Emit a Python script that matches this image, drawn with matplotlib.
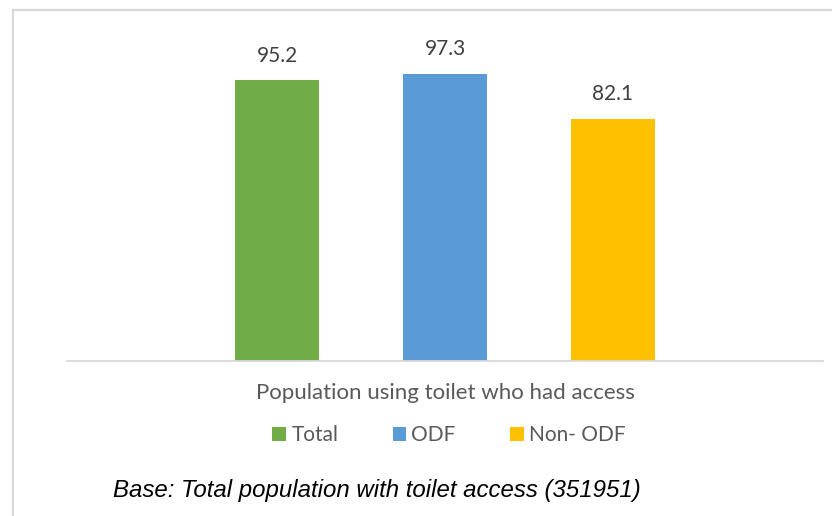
import matplotlib

matplotlib.use("Agg")

import matplotlib.pyplot as plt
from matplotlib.lines import Line2D
from matplotlib.patches import Patch

SERIES = ["Total", "ODF", "Non- ODF"]
VALUES = [95.2, 97.3, 82.1]
COLORS = ["#70AD47", "#5B9BD5", "#FFC000"]
CATEGORY = "Population using toilet who had access"
BASE_NOTE = "Base: Total population with toilet access (351951)"

W, H = 832, 516


def fx(px):
    return px / W


def fy(py):
    return 1 - py / H


def main() -> None:
    plt.rcParams["font.family"] = ["Lato", "DejaVu Sans"]

    fig = plt.figure(figsize=(W / 100, H / 100), dpi=100)
    ax = fig.add_axes([fx(67), fy(360.7), fx(823) - fx(67), fy(7.1) - fy(360.7)])

    positions = [-1, 0, 1]
    bars = ax.bar(positions, VALUES, width=0.5, color=COLORS)
    ax.bar_label(bars, labels=[f"{v:.1f}" for v in VALUES], padding=10.5,
                 fontsize=15, color="#404040")

    ax.set_xlim(-2.25, 2.25)
    ax.set_ylim(0, 120)
    ax.set_yticks([])
    ax.set_xticks([0])
    ax.set_xticklabels([CATEGORY], fontsize=16, color="#595959")
    ax.tick_params(axis="x", length=0, pad=16)
    for side in ("top", "right", "left"):
        ax.spines[side].set_visible(False)
    ax.spines["bottom"].set_color("#d9d9d9")
    ax.spines["bottom"].set_linewidth(1.3)

    handles = [Patch(facecolor=c, edgecolor="none", label=s) for s, c in zip(SERIES, COLORS)]
    fig.legend(handles=handles, loc="center", bbox_to_anchor=(fx(449), fy(435)),
               ncol=3, frameon=False, fontsize=15, labelcolor="#595959",
               handlelength=0.66, handleheight=0.66, handletextpad=0.25,
               columnspacing=2.6, borderpad=0)

    fig.text(fx(113), fy(497), BASE_NOTE, family="Liberation Sans", style="italic",
             fontsize=17.3, color="black", va="baseline", ha="left")

    # chart frame: top and left edges only
    frame = dict(color="#d9d9d9", linewidth=1.6, transform=fig.transFigure)
    fig.add_artist(Line2D([fx(12.5), 1], [fy(10), fy(10)], **frame))
    fig.add_artist(Line2D([fx(12.5), fx(12.5)], [fy(10), 0], **frame))

    fig.savefig("out.png", dpi=100)
    plt.close(fig)


if __name__ == "__main__":
    main()
